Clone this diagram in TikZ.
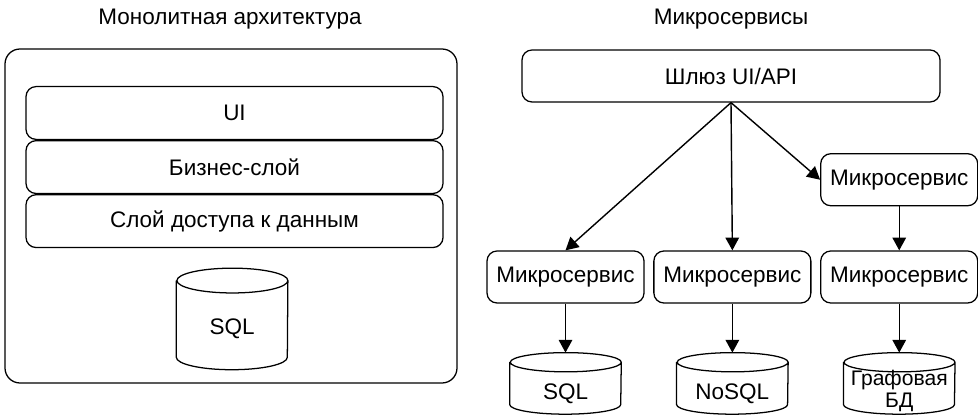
\documentclass[tikz,border=0pt]{standalone}
\usepackage{fontspec}
\setmainfont{Liberation Sans}
\usetikzlibrary{positioning}
\usetikzlibrary{arrows.meta}

\tikzset{
  layer/.style={draw, rounded corners=0.25cm, minimum width=10.425cm, minimum height=1.32cm, line width=0.9pt},
  service/.style={draw, rounded corners=0.25cm, minimum width=3.925cm, minimum height=1.3cm, line width=0.9pt},
  db/.style={minimum width=2.775cm, minimum height=1.525cm, inner sep=0pt, align=center,
    text height=0.8cm, text depth=0pt,
    append after command={\pgfextra{\draw[line width=0.9pt]
      ([yshift=-#1]\tikzlastnode.north west) -- ([yshift=#1]\tikzlastnode.south west)
      arc[start angle=180, end angle=360, x radius=1.3875cm, y radius=#1]
      -- ([yshift=-#1]\tikzlastnode.north east)
      arc[start angle=0, end angle=360, x radius=1.3875cm, y radius=#1];}}},
  db/.default=0.24cm,
  link/.style={-{Triangle[length=0.32cm,width=0.34cm]}, line width=1pt},
}

\begin{document}
\begin{tikzpicture}[font=\fontsize{16}{19}\selectfont]
    \useasboundingbox (0,0) rectangle (24.45,10.425);

    % monolith
    \node (monotitle) at (5.75,9.95) {Монолитная архитектура};
    \node[draw, rounded corners=0.375cm, minimum width=11.3cm, minimum height=8.35cm, line width=0.9pt] (mono) at (5.775,5.025) {};
    \node[layer] (ui) at (5.8625,7.6) {UI};
    \node[layer, below=0cm of ui] (biz) {Бизнес-слой};
    \node[layer, below=0cm of biz] (dal) {Слой доступа к данным};
    \node[db=0.31cm, minimum height=2.525cm, below=0.5cm of dal, xshift=-0.06cm] (monodb) {SQL};

    % microservices
    \node (mstitle) at (18.275,9.95) {Микросервисы};
    \node[service, minimum width=10.45cm] (gate) at (18.275,8.525) {Шлюз UI/API};
    \node[service] (ms1) at (14.1375,3.5) {Микросервис};
    \node[service, right=0.215cm of ms1] (ms2) {Микросервис};
    \node[service, right=0.215cm of ms2] (ms3) {Микросервис};
    \node[service, above=1.1cm of ms3] (ms4) {Микросервис};

    \node[db, below=1.225cm of ms1] (db1) {SQL};
    \node[db, below=1.225cm of ms2] (db2) {NoSQL};
    \node[db, below=1.225cm of ms3] (db3) {\raisebox{0.07cm}[0pt][0pt]{\fontsize{15}{18}\selectfont\begin{tabular}{@{}c@{}}Графовая\\[-2pt]БД\end{tabular}}};

    \draw[link] (gate.south) -- (ms1.north);
    \draw[link] (gate.south) -- (ms2.north);
    \draw[link] (gate.south) -- (ms4.west);
    \draw[link] (ms4) -- (ms3);
    \draw[link] (ms1) -- (db1);
    \draw[link] (ms2) -- (db2);
    \draw[link] (ms3) -- (db3);
\end{tikzpicture}
\end{document}
